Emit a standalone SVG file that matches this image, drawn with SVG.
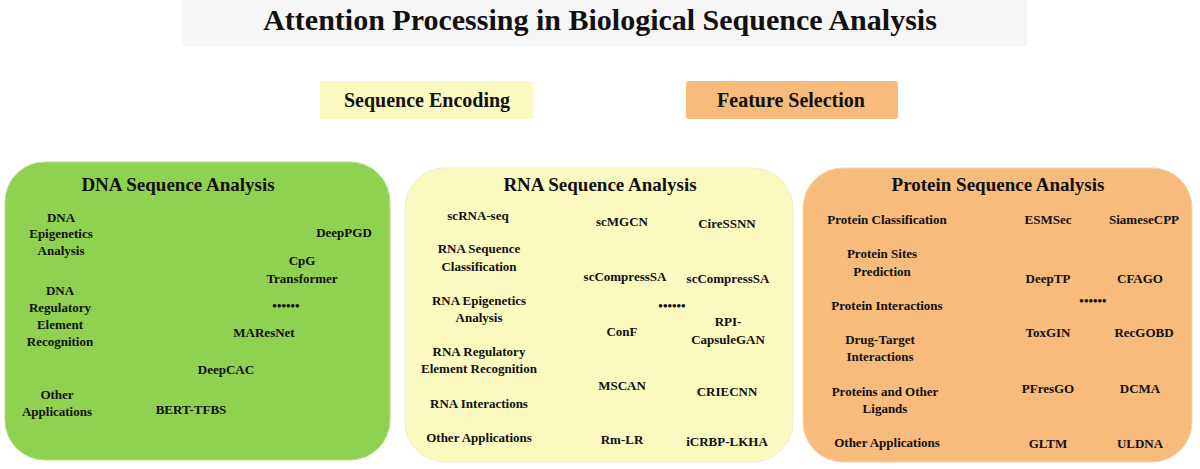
<svg xmlns="http://www.w3.org/2000/svg" width="1200" height="469" viewBox="0 0 1200 469">
<style>
text{font-family:"Liberation Serif",serif;font-weight:bold;fill:#111;text-anchor:middle}
.t{font-size:13px}
.h{font-size:19px}
</style>
<rect width="1200" height="469" fill="#fff"/>
<rect x="182" y="0" width="845" height="46" fill="#f6f6f6"/>
<text x="600" y="30" style="font-size:30px">Attention Processing in Biological Sequence Analysis</text>
<g id="seq-enc"><rect x="320" y="81" width="213" height="38" fill="#fafac0"/><text x="427" y="107" style="font-size:20px">Sequence Encoding</text></g>
<g id="feat-sel"><rect x="686" y="81" width="212" height="38" rx="3" fill="#f7bb7c"/><text x="791" y="107" style="font-size:20px">Feature Selection</text></g>
<g id="connectors"></g>
<g id="dna">
<rect x="5" y="162" width="385" height="298" rx="40" fill="#8fd150" stroke="#b4e08a"/>
<text class="h" x="178" y="191">DNA Sequence Analysis</text>
<text class="t" x="61" y="222">DNA</text><text class="t" x="61" y="238">Epigenetics</text><text class="t" x="61" y="255">Analysis</text>
<text class="t" x="60" y="295">DNA</text><text class="t" x="60" y="312">Regulatory</text><text class="t" x="60" y="329">Element</text><text class="t" x="60" y="346">Recognition</text>
<text class="t" x="57" y="399">Other</text><text class="t" x="57" y="416">Applications</text>
<text class="t" x="344" y="237">DeepPGD</text>
<text class="t" x="302" y="265">CpG</text><text class="t" x="302" y="283">Transformer</text>
<text class="t" x="286" y="310">••••••</text>
<text class="t" x="264" y="337">MAResNet</text>
<text class="t" x="226" y="374">DeepCAC</text>
<text class="t" x="191" y="414">BERT-TFBS</text>
</g>
<g id="rna">
<rect x="405" y="168" width="388" height="294" rx="40" fill="#fafac0" stroke="#eeeed8"/>
<text class="h" x="600" y="191">RNA Sequence Analysis</text>
<text class="t" x="478" y="220">scRNA-seq</text>
<text class="t" x="479" y="253">RNA Sequence</text><text class="t" x="479" y="271">Classification</text>
<text class="t" x="479" y="305">RNA Epigenetics</text><text class="t" x="479" y="322">Analysis</text>
<text class="t" x="479" y="356">RNA Regulatory</text><text class="t" x="479" y="373">Element Recognition</text>
<text class="t" x="479" y="408">RNA Interactions</text>
<text class="t" x="479" y="442">Other Applications</text>
<text class="t" x="622" y="226">scMGCN</text>
<text class="t" x="727" y="228">CireSSNN</text>
<text class="t" x="625" y="281">scCompressSA</text>
<text class="t" x="728" y="283">scCompressSA</text>
<text class="t" x="672" y="310">••••••</text>
<text class="t" x="622" y="336">ConF</text>
<text class="t" x="728" y="326">RPI-</text><text class="t" x="728" y="344">CapsuleGAN</text>
<text class="t" x="622" y="390">MSCAN</text>
<text class="t" x="727" y="396">CRIECNN</text>
<text class="t" x="622" y="444">Rm-LR</text>
<text class="t" x="727" y="446">iCRBP-LKHA</text>
</g>
<g id="protein">
<rect x="803" y="168" width="389" height="294" rx="40" fill="#f7bb7c" stroke="#f3d3b0"/>
<text class="h" x="998" y="191">Protein Sequence Analysis</text>
<text class="t" x="887" y="224">Protein Classification</text>
<text class="t" x="882" y="258">Protein Sites</text><text class="t" x="882" y="276">Prediction</text>
<text class="t" x="887" y="310">Protein Interactions</text>
<text class="t" x="880" y="344">Drug-Target</text><text class="t" x="880" y="361">Interactions</text>
<text class="t" x="885" y="396">Proteins and Other</text><text class="t" x="885" y="413">Ligands</text>
<text class="t" x="887" y="447">Other Applications</text>
<text class="t" x="1048" y="224">ESMSec</text>
<text class="t" x="1144" y="224">SiameseCPP</text>
<text class="t" x="1048" y="283">DeepTP</text>
<text class="t" x="1140" y="283">CFAGO</text>
<text class="t" x="1093" y="305">••••••</text>
<text class="t" x="1048" y="337">ToxGIN</text>
<text class="t" x="1144" y="337">RecGOBD</text>
<text class="t" x="1048" y="393">PFresGO</text>
<text class="t" x="1140" y="393">DCMA</text>
<text class="t" x="1048" y="448">GLTM</text>
<text class="t" x="1140" y="448">ULDNA</text>
</g>
</svg>
